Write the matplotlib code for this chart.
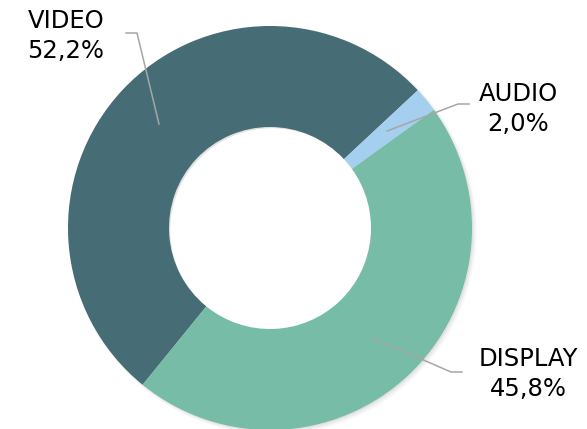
import matplotlib.pyplot as plt
from matplotlib.patches import Wedge

# Data
categories = ['VIDEO', 'AUDIO', 'DISPLAY']
shares = [52.2, 2.0, 45.8]
colors = ['#466C75', '#A5CFEF', '#76BCA7']

# pixel -> data helper (center at 270,228 px, radius 202 px)
CX, CY, R = 270, 228, 202


def px(x, y):
    return (x - CX) / R, (CY - y) / R


fig = plt.figure(figsize=(5.87, 4.29), dpi=100)
ax = fig.add_axes([0, 0, 1, 1])
ax.axis('off')

# soft outer shadow
for i, a in enumerate([0.05, 0.04, 0.03]):
    ax.add_patch(Wedge((0.006 + 0.004 * i, -0.006 - 0.004 * i), 1.0 + 0.004 * i, 0, 360,
                       width=0.5, facecolor='#000000', alpha=a, lw=0, zorder=0))

ax.pie(shares, colors=colors, startangle=230.9, counterclock=False,
       radius=1.0, wedgeprops=dict(width=0.5, linewidth=0, zorder=1),
       frame=False)
ax.set_xlim(-CX / R, (587 - CX) / R)
ax.set_ylim(-(429 - CY) / R, CY / R)
ax.set_aspect('equal')

# leader lines (pixel coordinates from the picture)
leaders = [
    [(126, 33), (137, 33), (159, 124)],
    [(387, 131), (458, 104), (469, 104)],
    [(373, 338), (451, 372), (462, 372)],
]
for pts in leaders:
    xs, ys = zip(*[px(*p) for p in pts])
    ax.plot(xs, ys, color='#A6A6A6', lw=1.1, zorder=3)

label_pos = [(66, 36), (518, 109), (528, 374)]
for cat, val, pos in zip(categories, shares, label_pos):
    txt = f"{cat}\n{val:.1f}%".replace('.', ',')
    ax.text(*px(*pos), txt, ha='center', va='center', fontsize=17.5,
            family='DejaVu Sans', color='#000000', linespacing=1.3, zorder=4)

plt.savefig('out.png', dpi=100)
